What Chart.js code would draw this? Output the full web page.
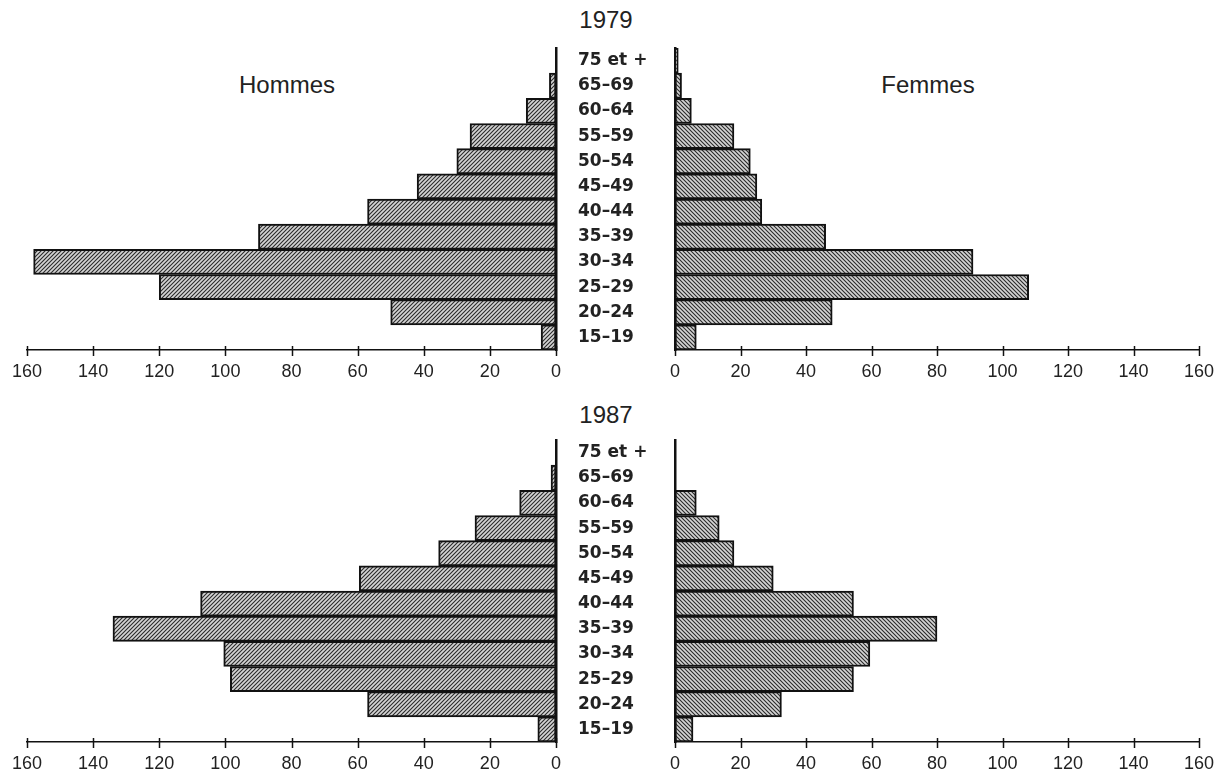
<!DOCTYPE html>
<html><head><meta charset="utf-8">
<script src="https://cdn.jsdelivr.net/npm/chart.js@4.4.0/dist/chart.umd.min.js"></script>
<style>
body{margin:0;background:#fff;width:1228px;height:774px;overflow:hidden;position:relative;font-family:"Liberation Sans",Arial,sans-serif;}
canvas{position:absolute;}
.t{position:absolute;font-size:24px;color:#222;transform:translate(-50%,-50%);white-space:nowrap;}
</style></head><body>
<div class="t" style="left:606px;top:20px">1979</div>
<div class="t" style="left:606px;top:415px">1987</div>
<div class="t" style="left:287px;top:85px">Hommes</div>
<div class="t" style="left:928px;top:85px">Femmes</div>
<canvas id="c1" width="600" height="390" style="left:0;top:0"></canvas>
<canvas id="c2" width="668" height="390" style="left:560px;top:0"></canvas>
<canvas id="c3" width="600" height="390" style="left:0;top:392px"></canvas>
<canvas id="c4" width="668" height="390" style="left:560px;top:392px"></canvas>
<script>
const ages = ['75 et +','65–69','60–64','55–59','50–54','45–49','40–44','35–39','30–34','25–29','20–24','15–19'];
const hommes1979 = [0, 2, 9, 26, 30, 42, 57, 90, 158, 120, 50, 4.5];
const femmes1979 = [1, 2, 5, 18, 23, 25, 26.5, 46, 91, 108, 48, 6.5];
const hommes1987 = [0, 1.5, 11, 24.5, 35.5, 59.5, 107.5, 134, 100.5, 98.5, 57, 5.5];
const femmes1987 = [0, 0, 6.5, 13.5, 18, 30, 54.5, 80, 59.5, 54.5, 32.5, 5.5];
const xMin = 0, xMax = 160, xStep = 20;

function hatch(dir){
  const n = 4;
  const c = document.createElement('canvas'); c.width = c.height = n;
  const g = c.getContext('2d');
  g.fillStyle = '#d4d4d4'; g.fillRect(0,0,n,n);
  g.strokeStyle = '#2a2a2a'; g.lineWidth = 1.1; g.beginPath();
  if (dir > 0) {
    g.moveTo(0,n); g.lineTo(n,0); g.moveTo(-1,1); g.lineTo(1,-1); g.moveTo(n-1,n+1); g.lineTo(n+1,n-1);
  } else {
    g.moveTo(0,0); g.lineTo(n,n); g.moveTo(n-1,-1); g.lineTo(n+1,1); g.moveTo(-1,n-1); g.lineTo(1,n+1);
  }
  g.stroke();
  return g.createPattern(c,'repeat');
}

const crossTicks = {
  id:'crossTicks',
  afterDraw(chart){
    const s = chart.scales.x, ctx = chart.ctx;
    ctx.save(); ctx.strokeStyle = '#111'; ctx.lineWidth = 1.5;
    s.ticks.forEach((t,i) => {
      const x = Math.round(s.getPixelForTick(i)) + 0.5;
      ctx.beginPath(); ctx.moveTo(x, s.top - 4); ctx.lineTo(x, s.top + 6); ctx.stroke();
    });
    ctx.restore();
  }
};

function make(id, values, left){
  return new Chart(document.getElementById(id), {
    type:'bar',
    data:{labels:ages, datasets:[{data:values, backgroundColor:hatch(left?1:-1), borderColor:'#111', borderWidth:2,
      borderSkipped:false, categoryPercentage:1, barPercentage:1}]},
    options:{
      indexAxis:'y', responsive:false, animation:false, devicePixelRatio:1,
      layout:{padding: left ? {left:27,right:0,top:48,bottom:0} : {left:18,right:29,top:48,bottom:0}},
      plugins:{legend:{display:false}, tooltip:{enabled:false}, title:{display:false}},
      scales:{
        x:{type:'linear', min:xMin, max:xMax, reverse:left, position:'bottom',
          ticks:{stepSize:xStep, font:{size:18, family:'Liberation Sans'}, color:'#222', padding:3, maxRotation:0, autoSkip:false},
          grid:{display:false}, border:{display:true, color:'#111', width:1.5},
          afterFit(s){ s.height = 40; }},
        y:{type:'category', position: left ? 'right' : 'left',
          ticks:{display:!left, crossAlign:'far', font:{size:17, weight:'bold', family:'DejaVu Sans'}, color:'#222'},
          grid:{display:false}, border:{display:true, color:'#111', width:2.5},
          afterFit(s){ s.width = left ? 44 : 97; }}
      }
    },
    plugins:[crossTicks]
  });
}
make('c1', hommes1979, true);
make('c2', femmes1979, false);
make('c3', hommes1987, true);
make('c4', femmes1987, false);
</script>
</body></html>
